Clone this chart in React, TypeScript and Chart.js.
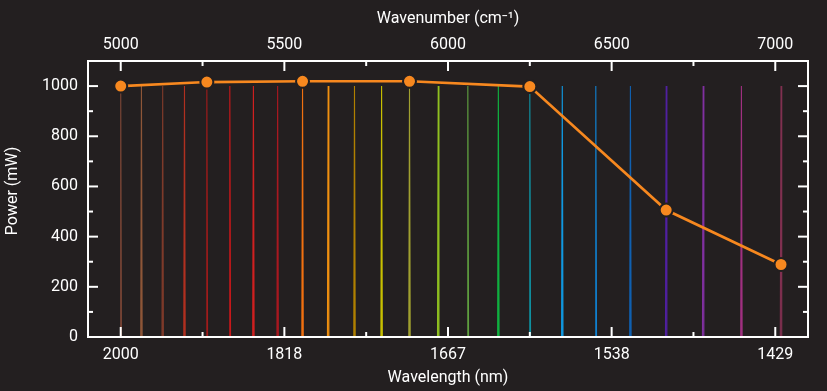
import React, { useEffect, useRef } from "react";
import { Chart, registerables } from "chart.js";

Chart.register(...registerables);

// ---------- data ----------
const peakWavelengths = [
  2000, 1975, 1950, 1925, 1900, 1875, 1850, 1825, 1800, 1775, 1750, 1725,
  1700, 1675, 1650, 1625, 1600, 1575, 1550, 1525, 1500, 1475, 1450, 1425,
];
const peakHeights = [
  1000, 1000, 1000, 1000, 1000, 1000, 1000, 1000, 1000, 1000, 1000, 1000,
  1000, 1000, 1000, 1000, 1000, 1000, 1000, 1000, 1000, 1000, 1000, 1000,
];
const peakColors = [
  "#7a4636", "#8e5638", "#7e3a2a", "#b03020", "#a01c1c", "#c8181a",
  "#d02020", "#a81820", "#f07010", "#f09010", "#b08000", "#c8c000",
  "#a0a030", "#90c020", "#60a040", "#10b040", "#1090a0", "#1098e0",
  "#1080d0", "#1060b0", "#5020a0", "#8030a0", "#a03080", "#803050",
];
const powerWavelengths = [2000, 1900, 1800, 1700, 1600, 1500, 1425];
const powerValues = [1000, 1016, 1019, 1019, 998, 506, 289];

const wavenumberTicks = [5000, 5500, 6000, 6500, 7000];
const wavenumberMinorTicks = [5250, 5750, 6250, 6750];
const powerTicks = [0, 200, 400, 600, 800, 1000];
const powerMinorTicks = [100, 300, 500, 700, 900];

// ---------- style ----------
const BG = "#231f20";
const FG = "#ffffff";
const ORANGE = "#f7881f";
const FONT = { family: "Roboto", size: 16 };
const X_MIN = 4900;
const X_MAX = 7100;
const Y_MIN = 0;
const Y_MAX = 1100;
const PEAK_HALF_WIDTH = 2.2; // cm^-1
const MAJOR_TICK = 10;
const MINOR_TICK = 5;

const toWavenumber = (nm: number) => 1e7 / nm;

const framePlugin = {
  id: "frame",
  afterDatasetsDraw(chart: any) {
    const { ctx, chartArea, scales } = chart;
    const { left, right, top, bottom } = chartArea;
    const xs = scales.x;
    const ys = scales.y;
    ctx.save();
    ctx.strokeStyle = FG;
    ctx.lineWidth = 2;
    ctx.lineCap = "butt";
    const seg = (x1: number, y1: number, x2: number, y2: number) => {
      ctx.beginPath();
      ctx.moveTo(x1, y1);
      ctx.lineTo(x2, y2);
      ctx.stroke();
    };
    wavenumberTicks.forEach((v) => {
      const px = xs.getPixelForValue(v);
      seg(px, bottom, px, bottom - MAJOR_TICK);
      seg(px, top, px, top + MAJOR_TICK);
    });
    wavenumberMinorTicks.forEach((v) => {
      const px = xs.getPixelForValue(v);
      seg(px, bottom, px, bottom - MINOR_TICK);
      seg(px, top, px, top + MINOR_TICK);
    });
    powerTicks.forEach((v) => {
      const py = ys.getPixelForValue(v);
      seg(left, py, left + MAJOR_TICK, py);
      seg(right, py, right - MAJOR_TICK, py);
    });
    powerMinorTicks.forEach((v) => {
      const py = ys.getPixelForValue(v);
      seg(left, py, left + MINOR_TICK, py);
      seg(right, py, right - MINOR_TICK, py);
    });
    ctx.strokeRect(left, top, right - left, bottom - top);

    // y-axis title
    ctx.fillStyle = FG;
    ctx.font = `${FONT.size}px ${FONT.family}`;
    ctx.textAlign = "center";
    ctx.textBaseline = "middle";
    ctx.translate(13, 191);
    ctx.rotate(-Math.PI / 2);
    ctx.fillText("Power (mW)", 0, 0);
    ctx.restore();
  },
};

export default function App() {
  const canvasRef = useRef<HTMLCanvasElement | null>(null);

  useEffect(() => {
    if (!canvasRef.current) return;

    const peakDatasets = peakWavelengths.map((nm, i) => {
      const c = toWavenumber(nm);
      return {
        type: "line" as const,
        label: `${nm} nm`,
        data: [
          { x: c - PEAK_HALF_WIDTH, y: 0 },
          { x: c, y: peakHeights[i] },
          { x: c + PEAK_HALF_WIDTH, y: 0 },
        ],
        borderColor: peakColors[i],
        backgroundColor: peakColors[i],
        borderWidth: 1.1,
        fill: true,
        pointRadius: 0,
        tension: 0,
        xAxisID: "x",
        yAxisID: "y",
        order: 2,
      };
    });

    const powerDataset = {
      type: "line" as const,
      label: "Power",
      data: powerWavelengths.map((nm, i) => ({
        x: toWavenumber(nm),
        y: powerValues[i],
      })),
      borderColor: ORANGE,
      backgroundColor: ORANGE,
      borderWidth: 2.6,
      pointRadius: 6.5,
      pointBackgroundColor: ORANGE,
      pointBorderColor: BG,
      pointBorderWidth: 2,
      tension: 0,
      fill: false,
      xAxisID: "x",
      yAxisID: "y",
      order: 0,
    };

    const hiddenGrid = { display: false, drawTicks: false };
    const noBorder = { display: false };

    const chart = new Chart(canvasRef.current, {
      type: "line",
      data: { datasets: [powerDataset, ...peakDatasets] as any },
      options: {
        animation: false,
        responsive: true,
        maintainAspectRatio: false,
        layout: { padding: 0 },
        plugins: {
          legend: { display: false },
          tooltip: { enabled: false },
        },
        scales: {
          x: {
            type: "linear",
            position: "bottom",
            min: X_MIN,
            max: X_MAX,
            grid: hiddenGrid,
            border: noBorder,
            ticks: {
              color: FG,
              font: FONT,
              padding: 8,
              maxRotation: 0,
              autoSkip: false,
              callback: (v: any) => String(Math.round(1e7 / Number(v))),
            },
            afterBuildTicks: (s: any) => {
              s.ticks = wavenumberTicks.map((v) => ({ value: v }));
            },
            afterFit: (s: any) => {
              s.height = 54;
            },
            title: {
              display: true,
              text: "Wavelength (nm)",
              color: FG,
              font: FONT,
              padding: { top: 0, bottom: 3 },
            },
          },
          x2: {
            type: "linear",
            position: "top",
            min: X_MIN,
            max: X_MAX,
            grid: hiddenGrid,
            border: noBorder,
            ticks: {
              color: FG,
              font: FONT,
              padding: 6,
              maxRotation: 0,
              autoSkip: false,
              callback: (v: any) => String(v),
            },
            afterBuildTicks: (s: any) => {
              s.ticks = wavenumberTicks.map((v) => ({ value: v }));
            },
            afterFit: (s: any) => {
              s.height = 61;
            },
            title: {
              display: true,
              text: "Wavenumber (cm⁻¹)",
              color: FG,
              font: FONT,
              padding: { top: 9, bottom: 0 },
            },
          },
          y: {
            type: "linear",
            position: "left",
            min: Y_MIN,
            max: Y_MAX,
            grid: hiddenGrid,
            border: noBorder,
            ticks: {
              color: FG,
              font: FONT,
              padding: 10,
              autoSkip: false,
              callback: (v: any) => String(v),
            },
            afterBuildTicks: (s: any) => {
              s.ticks = powerTicks.map((v) => ({ value: v }));
            },
            afterFit: (s: any) => {
              s.width = 88;
            },
          },
          y2: {
            type: "linear",
            position: "right",
            min: Y_MIN,
            max: Y_MAX,
            grid: hiddenGrid,
            border: noBorder,
            ticks: { display: false },
            afterFit: (s: any) => {
              s.width = 19;
            },
          },
        },
      },
      plugins: [framePlugin],
    });

    return () => chart.destroy();
  }, []);

  return (
    <div
      style={{
        position: "absolute",
        left: 0,
        top: 0,
        width: 827,
        height: 391,
        background: BG,
      }}
    >
      <canvas ref={canvasRef} />
    </div>
  );
}
